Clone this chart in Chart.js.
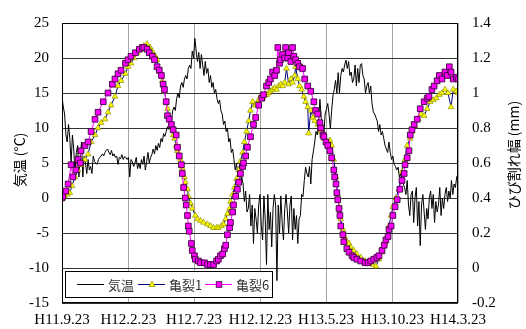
<!DOCTYPE html>
<html>
<head>
<meta charset="utf-8">
<script src="https://cdn.jsdelivr.net/npm/chart.js@4"></script>
<style>
  html, body { margin: 0; padding: 0; background: #fff; }
  #wrap { width: 526px; height: 329px; }
</style>
</head>
<body>
<div id="wrap"><canvas id="chart" width="526" height="329"></canvas></div>
<script>
// x axis: days counted from H11.9.23
const tickDays = [0, 153, 304, 457, 608, 761, 912];
const tickLabels = ['H11.9.23', 'H12.2.23', 'H12.7.23', 'H12.12.23', 'H13.5.23', 'H13.10.23', 'H14.3.23'];

// 気温 (°C), one reading every 3 days
const tempInterval = 3;
const tempValues = [
  14.5, 13.0, 12.0, 9.0, 8.0, 10.5, 8.5, 5.0, 9.0, 7.0,
  3.5, 6.5, 7.5, 3.0, 6.0, 8.0, 3.0, 6.0, 5.0, 3.5,
  5.5, 4.0, 4.5, 3.5, 6.0, 5.2, 5.0, 4.8, 5.5, 5.8,
  6.0, 6.3, 6.0, 6.5, 6.8, 7.0, 6.5, 6.2, 6.8, 6.0,
  6.3, 5.8, 6.0, 4.8, 5.8, 5.6, 6.2, 5.5, 5.9, 5.8,
  5.5, 5.8, 3.0, 5.5, 5.2, 4.5, 5.0, 5.8, 4.2, 5.0,
  4.2, 5.5, 4.8, 6.0, 4.0, 5.2, 6.5, 5.0, 5.8, 6.2,
  7.0, 6.3, 7.5, 6.8, 7.8, 7.2, 8.5, 8.0, 9.2, 8.8,
  9.5, 10.2, 9.8, 11.5, 11.0, 12.5, 13.0, 12.5, 14.2, 15.0,
  14.3, 16.0, 16.5, 15.8, 17.0, 17.5, 17.0, 18.5, 19.0, 18.5,
  21.0, 20.0, 22.8, 21.0, 19.5, 20.8, 18.5, 20.5, 19.0, 17.5,
  19.5, 17.8, 18.5, 16.5, 17.5, 15.8, 16.5, 15.0, 15.5, 14.2,
  13.5, 14.0, 12.5, 12.0, 10.5, 11.0, 9.5, 10.0, 8.0, 8.5,
  6.5, 7.0, 5.5, 4.0, 5.0, 3.0, 4.5, 2.0, 3.0, 2.0,
  -0.5, 1.0, -2.0, -1.5, 0.5, -4.0, -1.0, -6.5, -1.5, -3.0,
  -5.0, -1.0, 0.5, -4.0, -6.0, 0.3, -3.0, -9.5, 0.5, -4.5,
  -2.0, -7.0, -1.5, 0.5, -1.0, -11.8, -1.0, -5.0, 0.3, -3.5,
  -6.0, -1.5, 0.5, -2.0, -5.0, -1.0, 0.3, -6.0, -1.5, -4.5,
  -2.5, -6.5, -3.0, -2.5, 0.5, 0.2, 2.5, 4.4, 3.5, 3.0,
  4.5, 2.0, 5.5, 6.7, 8.0, 9.5, 9.0, 11.0, 14.1, 11.5,
  10.0, 9.0, 12.0, 12.7, 13.5, 12.0, 9.9, 12.5, 14.6, 15.5,
  16.8, 15.0, 17.9, 15.0, 17.5, 18.5, 18.0, 19.0, 19.7, 18.5,
  19.5, 17.5, 18.0, 16.5, 17.0, 19.0, 16.0, 18.5, 16.5, 19.0,
  19.2, 17.5, 17.0, 15.0, 16.0, 16.5, 15.0, 16.0, 13.5, 12.3,
  12.0, 11.5, 11.0, 9.5, 10.5, 9.0, 9.5, 8.5, 7.5, 7.0,
  6.5, 8.0, 6.5, 5.5, 6.0, 4.8, 4.5, 4.0, 4.4, 3.0,
  3.5, 2.5, 2.0, 1.5, 0.5, 2.5, -1.0, -2.5, 0.5, 1.0,
  -3.5, 0.0, 1.5, -4.0, -0.5, -6.8, -1.0, 0.5, -2.0, -4.5,
  -1.5, -3.0, 0.0, 1.0, -1.5, 0.5, -3.5, -0.5, -2.0, -1.0,
  1.5, -2.5, 0.0, -1.5, 0.5, 1.5, -0.5, 1.0, 0.0, 2.5,
  0.5, 2.0, 1.5, 3.0, 3.4
];

// 亀裂1 crack width (mm)
const crack1Days = [
  0, 5, 12, 18, 23, 30, 37, 44, 53, 60, 67, 76, 83, 90, 99, 106, 113, 122, 129, 136,
  146, 152, 159, 166, 173, 182, 189, 196, 203, 208, 215, 219, 226, 231, 236, 240, 243, 247, 252, 256,
  259, 263, 266, 273, 277, 282, 284, 289, 291, 296, 300, 307, 312, 319, 326, 335, 342, 349, 356, 360,
  367, 372, 377, 381, 386, 388, 393, 397, 402, 407, 411, 416, 420, 425, 430, 434, 439, 444, 448, 453,
  457, 462, 467, 471, 476, 480, 485, 490, 494, 499, 504, 508, 513, 517, 522, 527, 531, 536, 538, 543,
  547, 552, 557, 561, 566, 568, 573, 578, 582, 589, 596, 603, 610, 617, 621, 626, 631, 635, 638, 642,
  647, 651, 656, 661, 665, 672, 679, 688, 698, 707, 716, 723, 730, 737, 744, 748, 753, 758, 762, 769,
  776, 783, 790, 795, 802, 806, 813, 820, 827, 834, 841, 848, 855, 862, 869, 875, 882, 889, 896, 901,
  908, 912
];
const crack1Values = [
  0.40, 0.41, 0.42, 0.43, 0.47, 0.52, 0.56, 0.59, 0.62, 0.65, 0.72, 0.76, 0.80, 0.83, 0.85, 0.89, 0.93, 0.98, 1.04, 1.07,
  1.11, 1.15, 1.17, 1.20, 1.23, 1.25, 1.27, 1.28, 1.26, 1.24, 1.21, 1.19, 1.12, 1.07, 1.01, 0.95, 0.91, 0.86, 0.82, 0.76,
  0.74, 0.70, 0.67, 0.62, 0.57, 0.52, 0.49, 0.45, 0.41, 0.37, 0.34, 0.30, 0.28, 0.27, 0.26, 0.25, 0.24, 0.23, 0.23, 0.23,
  0.24, 0.25, 0.28, 0.31, 0.34, 0.38, 0.42, 0.46, 0.51, 0.56, 0.61, 0.66, 0.72, 0.78, 0.84, 0.90, 0.95, 0.93, 0.94, 0.96,
  0.98, 0.97, 0.99, 0.99, 1.00, 1.01, 1.02, 1.03, 1.02, 1.04, 1.05, 1.04, 1.06, 1.14, 1.05, 1.08, 1.06, 1.10, 1.15, 1.08,
  1.04, 1.02, 0.98, 0.95, 0.92, 0.77, 0.90, 0.86, 0.84, 0.82, 0.78, 0.74, 0.72, 0.73, 0.70, 0.62, 0.52, 0.42, 0.35, 0.28,
  0.22, 0.18, 0.15, 0.14, 0.12, 0.10, 0.08, 0.06, 0.04, 0.03, 0.02, 0.01, 0.05, 0.09, 0.14, 0.18, 0.24, 0.30, 0.35, 0.40,
  0.45, 0.55, 0.62, 0.70, 0.74, 0.78, 0.81, 0.85, 0.88, 0.87, 0.91, 0.95, 0.96, 0.97, 0.99, 1.00, 1.02, 1.00, 0.92, 1.02,
  1.01, 1.00
];

// 亀裂6 crack width (mm)
const crack6Days = [
  0, 2, 9, 14, 21, 25, 32, 37, 42, 44, 53, 60, 67, 76, 83, 95, 106, 116, 122, 129,
  136, 146, 152, 159, 169, 178, 185, 189, 196, 201, 208, 213, 219, 224, 229, 233, 236, 240, 243, 247,
  252, 256, 263, 266, 270, 275, 277, 280, 284, 286, 289, 291, 293, 298, 300, 305, 307, 314, 319, 328,
  335, 342, 349, 356, 360, 365, 370, 374, 377, 381, 386, 388, 393, 395, 400, 404, 407, 411, 416, 418,
  423, 427, 434, 441, 446, 453, 460, 464, 471, 476, 480, 485, 490, 494, 497, 501, 503, 508, 513, 515,
  520, 522, 527, 531, 534, 538, 543, 547, 554, 559, 566, 573, 580, 584, 589, 594, 596, 601, 603, 608,
  612, 617, 621, 626, 628, 631, 633, 635, 638, 640, 642, 647, 649, 656, 661, 668, 672, 679, 688, 698,
  705, 711, 718, 725, 730, 737, 742, 746, 751, 753, 758, 762, 767, 772, 778, 783, 788, 790, 795, 799,
  802, 806, 811, 818, 825, 834, 841, 845, 852, 857, 864, 869, 875, 882, 887, 892, 896, 901, 908, 912
];
const crack6Values = [
  0.40, 0.41, 0.44, 0.48, 0.59, 0.52, 0.56, 0.62, 0.60, 0.67, 0.70, 0.72, 0.78, 0.85, 0.89, 0.95, 1.00, 1.05, 1.08, 1.11,
  1.13, 1.17, 1.19, 1.21, 1.23, 1.25, 1.26, 1.26, 1.25, 1.23, 1.21, 1.19, 1.15, 1.13, 1.10, 1.05, 1.02, 0.95, 0.87, 0.85,
  0.82, 0.79, 0.76, 0.69, 0.64, 0.59, 0.54, 0.46, 0.40, 0.36, 0.30, 0.24, 0.21, 0.14, 0.10, 0.07, 0.05, 0.04, 0.03, 0.03,
  0.02, 0.02, 0.02, 0.04, 0.05, 0.07, 0.08, 0.11, 0.13, 0.19, 0.23, 0.26, 0.32, 0.36, 0.41, 0.45, 0.49, 0.54, 0.58, 0.60,
  0.64, 0.69, 0.75, 0.82, 0.86, 0.93, 0.97, 0.99, 1.04, 1.06, 1.08, 1.12, 1.10, 1.13, 1.26, 1.17, 1.19, 1.22, 1.20, 1.26,
  1.20, 1.23, 1.18, 1.26, 1.21, 1.19, 1.17, 1.15, 1.14, 1.08, 1.04, 1.01, 0.95, 0.90, 0.88, 0.83, 0.80, 0.76, 0.75, 0.72,
  0.70, 0.67, 0.63, 0.56, 0.52, 0.48, 0.43, 0.39, 0.34, 0.30, 0.24, 0.19, 0.15, 0.11, 0.09, 0.07, 0.06, 0.05, 0.04, 0.03,
  0.03, 0.04, 0.05, 0.06, 0.07, 0.10, 0.13, 0.16, 0.18, 0.22, 0.24, 0.30, 0.35, 0.39, 0.45, 0.50, 0.54, 0.59, 0.63, 0.67,
  0.76, 0.79, 0.82, 0.85, 0.91, 0.95, 0.97, 0.98, 1.02, 1.04, 1.07, 1.10, 1.08, 1.12, 1.10, 1.15, 1.12, 1.08, 1.09, 1.08
];

const tickFont = { family: '"Liberation Serif", "Times New Roman", serif', size: 15 };
const jpFont = '"Noto Sans CJK JP", sans-serif';

function drawMarker(ctx, style, x, y) {
  if (style === 'triangle') {
    ctx.beginPath();
    ctx.moveTo(x, y - 3.5);
    ctx.lineTo(x + 3, y + 2);
    ctx.lineTo(x - 3, y + 2);
    ctx.closePath();
    ctx.fillStyle = '#ffff00';
    ctx.fill();
    ctx.strokeStyle = '#8f8f00';
    ctx.lineWidth = 0.7;
    ctx.stroke();
  } else {
    ctx.fillStyle = '#ff00ff';
    ctx.fillRect(x - 2.8, y - 2.8, 5.6, 5.6);
    ctx.strokeStyle = '#3a003a';
    ctx.lineWidth = 0.8;
    ctx.strokeRect(x - 2.8, y - 2.8, 5.6, 5.6);
  }
}

// frame, axis titles and the legend box inside the plot
const decor = {
  id: 'decor',
  afterDraw(chart) {
    const { ctx, chartArea: a } = chart;
    ctx.save();
    ctx.strokeStyle = '#000';
    ctx.lineWidth = 1;
    ctx.strokeRect(Math.round(a.left) + 0.5, Math.round(a.top) + 0.5,
      Math.round(a.right - a.left) - 1, Math.round(a.bottom - a.top) - 1);

    ctx.fillStyle = '#000';
    ctx.font = '14px ' + jpFont;
    ctx.textAlign = 'center';
    ctx.textBaseline = 'middle';
    ctx.save();
    ctx.translate(20, 160);
    ctx.rotate(-Math.PI / 2);
    ctx.fillText('気温 (°C)', 0, 0);
    ctx.restore();
    ctx.save();
    ctx.translate(514, 155);
    ctx.rotate(-Math.PI / 2);
    ctx.fillText('ひび割れ幅 (mm)', 0, 0);
    ctx.restore();

    // legend
    const lx = a.left + 3, ly = a.bottom - 32, lw = 207, lh = 26;
    ctx.fillStyle = '#fff';
    ctx.fillRect(lx, ly, lw, lh);
    ctx.strokeStyle = '#000';
    ctx.lineWidth = 1;
    ctx.strokeRect(Math.round(lx) + 0.5, Math.round(ly) + 0.5, lw, lh);
    const cy = Math.round(ly + lh / 2) + 0.5;
    const items = chart.data.datasets.map((ds, i) => ({ ds, x: [lx + 12, lx + 73, lx + 140][i] }));
    ctx.font = '13px ' + jpFont;
    ctx.textAlign = 'left';
    items.forEach(({ ds, x }) => {
      ctx.strokeStyle = ds.borderColor;
      ctx.lineWidth = 1;
      ctx.beginPath();
      ctx.moveTo(x, cy);
      ctx.lineTo(x + 27, cy);
      ctx.stroke();
      if (ds.pointRadius > 0) drawMarker(ctx, ds.pointStyle, x + 14, cy);
      ctx.fillStyle = '#333';
      ctx.fillText(ds.label, x + 31, cy + 1);
    });
    ctx.restore();
  }
};

new Chart(document.getElementById('chart'), {
  type: 'line',
  data: {
    datasets: [
      {
        label: '気温',
        data: tempValues.map((t, i) => ({ x: i * tempInterval, y: t })),
        yAxisID: 'y',
        borderColor: '#000',
        borderWidth: 1,
        pointRadius: 0,
        order: 3
      },
      {
        label: '亀裂1',
        data: crack1Days.map((d, i) => ({ x: d, y: crack1Values[i] })),
        yAxisID: 'y1',
        borderColor: '#000080',
        borderWidth: 1,
        pointStyle: 'triangle',
        pointRadius: 3.3,
        pointBackgroundColor: '#ffff00',
        pointBorderColor: '#8f8f00',
        pointBorderWidth: 0.7,
        order: 2
      },
      {
        label: '亀裂6',
        data: crack6Days.map((d, i) => ({ x: d, y: crack6Values[i] })),
        yAxisID: 'y1',
        borderColor: '#ff00ff',
        borderWidth: 1,
        pointStyle: 'rect',
        pointRadius: 4,
        pointBackgroundColor: '#ff00ff',
        pointBorderColor: '#3a003a',
        pointBorderWidth: 0.9,
        order: 1
      }
    ]
  },
  options: {
    responsive: false,
    animation: false,
    devicePixelRatio: 1,
    layout: { padding: { top: 16, left: 0, right: 0, bottom: 0 } },
    plugins: { legend: { display: false }, tooltip: { enabled: false } },
    scales: {
      x: {
        type: 'linear',
        min: 0,
        max: 912,
        afterBuildTicks: s => { s.ticks = tickDays.map(v => ({ value: v })); },
        afterFit: s => { s.height = 26; },
        ticks: {
          callback: v => tickLabels[tickDays.indexOf(v)] ?? '',
          font: tickFont,
          color: '#000',
          maxRotation: 0,
          autoSkip: false,
          padding: 8
        },
        grid: { color: '#a6a6a6', drawTicks: false },
        border: { display: false }
      },
      y: {
        position: 'left',
        min: -15,
        max: 25,
        afterFit: s => { s.width = 62; },
        ticks: { stepSize: 5, font: tickFont, color: '#000', padding: 13 },
        grid: { color: '#333', drawTicks: false },
        border: { display: false }
      },
      y1: {
        position: 'right',
        min: -0.2,
        max: 1.4,
        afterFit: s => { s.width = 68; },
        ticks: {
          stepSize: 0.2,
          font: tickFont,
          color: '#000',
          padding: 14,
          callback: v => String(Math.round(v * 10) / 10)
        },
        grid: { drawOnChartArea: false, drawTicks: false },
        border: { display: false }
      }
    }
  },
  plugins: [decor]
});
</script>
</body>
</html>
